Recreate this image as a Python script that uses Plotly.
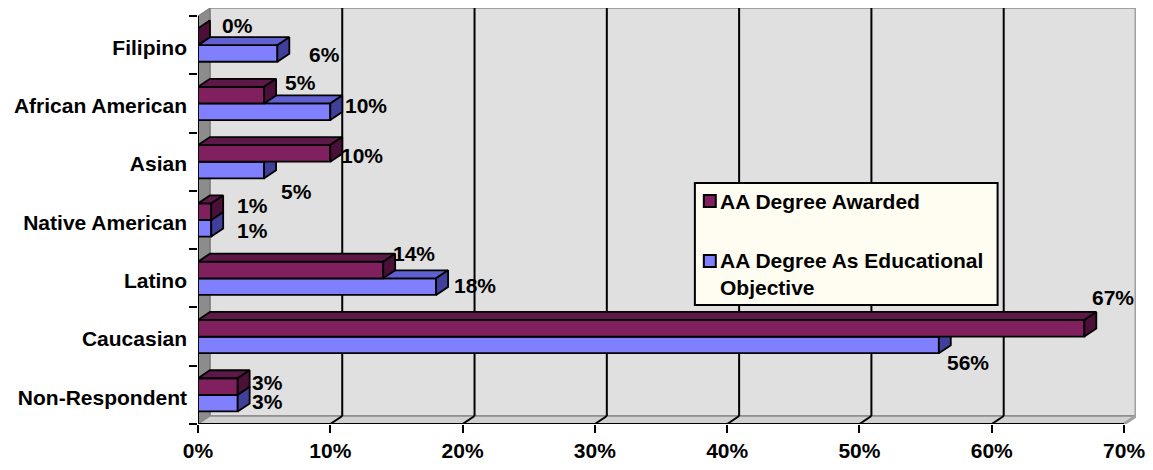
import plotly.graph_objects as go

# ---------------- data ----------------
categories = ['Non-Respondent', 'Caucasian', 'Latino', 'Native American',
              'Asian', 'African American', 'Filipino']          # bottom -> top
awarded = [3, 67, 14, 1, 10, 5, 0]          # AA Degree Awarded (%)
objective = [3, 56, 18, 1, 5, 10, 6]        # AA Degree As Educational Objective (%)
x_ticks = [0, 10, 20, 30, 40, 50, 60, 70]
x_tick_labels = ['0%', '10%', '20%', '30%', '40%', '50%', '60%', '70%']
series_names = ['AA Degree Awarded', 'AA Degree As Educational<br>Objective']

# ---------------- style ----------------
FONT = dict(family='Liberation Sans, Arial, sans-serif', size=21, color='black', weight='bold')
W, H = 1153, 470
ML, MR, MT, MB = 198, 13, 8, 46
XMAX = 0.70
DX = 12 / (930 / XMAX)          # depth offset (x, data units)
PLOT_H = H - MT - MB
DY = 0.1373                     # depth offset (y, category units)
BW = 0.285                      # bar thickness (category units)

M_FRONT, M_TOP, M_SIDE = '#80205F', '#5C1847', '#4A1038'
B_FRONT, B_TOP, B_SIDE = '#8080FF', '#6060D0', '#40409A'

# label offsets (pixels: right, down) relative to bar end / bar centre
aw_off = [(30, -4), (29, -31), (31, -16), (41, -6), (32, 2), (36, -13), (39, -11)]
ob_off = [(30, -2), (29, 18), (39, -1), (41, 2), (32, 21), (36, -6), (47, 1)]

fig = go.Figure()


def faces(values, y_lo_shift):
    fx, fy, tx, ty, sx, sy = [], [], [], [], [], []
    for i, v in enumerate(values):
        v = v / 100
        y0 = i + y_lo_shift
        y1 = y0 + BW
        fx += [0, v, v, 0, 0, None]
        fy += [y0, y0, y1, y1, y0, None]
        tx += [0, v, v + DX, DX, 0, None]
        ty += [y1, y1, y1 + DY, y1 + DY, y1, None]
        sx += [v, v + DX, v + DX, v, v, None]
        sy += [y0, y0 + DY, y1 + DY, y1, y0, None]
    return (fx, fy), (tx, ty), (sx, sy)


for vals, shift, cols in [(objective, -BW, (B_FRONT, B_TOP, B_SIDE)),
                          (awarded, 0.0, (M_FRONT, M_TOP, M_SIDE))]:
    for (xs, ys), col in zip(faces(vals, shift), cols):
        fig.add_trace(go.Scatter(x=xs, y=ys, mode='lines', fill='toself',
                                 fillcolor=col, line=dict(color='black', width=1.8),
                                 hoverinfo='skip', showlegend=False))

# data labels
for vals, shift, offs in [(awarded, 0.0, aw_off), (objective, -BW, ob_off)]:
    for i, v in enumerate(vals):
        fig.add_annotation(x=v / 100, y=i + shift + BW / 2, text=f'{v}%',
                           showarrow=False, xanchor='center', yanchor='middle',
                           xshift=offs[i][0], yshift=-offs[i][1], font=FONT,
                           borderpad=0)

shapes = []
ylo, yhi = -0.5, 6.5
# back wall
shapes.append(dict(type='rect', xref='x', yref='y', x0=DX, x1=XMAX + DX,
                   y0=ylo + DY, y1=yhi + DY, fillcolor='#E0E0E0',
                   line=dict(color='#A0A0A0', width=2), layer='below'))
# left wall
shapes.append(dict(type='path', xref='x', yref='y', layer='below',
                   path=f'M0,{ylo} L{DX},{ylo+DY} L{DX},{yhi+DY} L0,{yhi} Z',
                   fillcolor='#8C8C8C', line=dict(color='#707070', width=1)))
# floor
shapes.append(dict(type='path', xref='x', yref='y', layer='below',
                   path=f'M0,{ylo} L{XMAX},{ylo} L{XMAX+DX},{ylo+DY} L{DX},{ylo+DY} Z',
                   fillcolor='#D0D0D0', line=dict(color='#8C8C8C', width=1.5)))
# right edge of wall
shapes.append(dict(type='path', xref='x', yref='y', layer='below',
                   path=f'M{XMAX+DX},{yhi+DY} L{XMAX+DX},{ylo+DY} L{XMAX},{ylo}',
                   line=dict(color='#A0A0A0', width=3)))
# gridlines on wall and floor
for t in x_ticks[1:-1]:
    xv = t / 100
    shapes.append(dict(type='line', xref='x', yref='y', layer='below',
                       x0=xv + DX, x1=xv + DX, y0=ylo + DY, y1=yhi + DY,
                       line=dict(color='black', width=2)))
    shapes.append(dict(type='line', xref='x', yref='y', layer='below',
                       x0=xv, x1=xv + DX, y0=ylo, y1=ylo + DY,
                       line=dict(color='black', width=2)))
# front axis lines
shapes.append(dict(type='line', xref='x', yref='y', layer='below',
                   x0=0, x1=XMAX, y0=ylo, y1=ylo, line=dict(color='black', width=2)))
shapes.append(dict(type='line', xref='x', yref='y', layer='below',
                   x0=0, x1=0, y0=ylo, y1=yhi, line=dict(color='black', width=2)))


# legend (manual)
def px_x(p):
    return (p - ML) / (W - ML - MR)


def px_y(p):
    return (H - MB - p) / PLOT_H


shapes.append(dict(type='rect', xref='paper', yref='paper', layer='above',
                   x0=px_x(697), x1=px_x(1001), y0=px_y(305), y1=px_y(183),
                   fillcolor='#FFFCF2', line=dict(color='black', width=2)))
for col, yc in [(M_FRONT, 201), (B_FRONT, 261)]:
    shapes.append(dict(type='rect', xref='paper', yref='paper', layer='above',
                       x0=px_x(706), x1=px_x(718), y0=px_y(yc + 6), y1=px_y(yc - 6),
                       fillcolor=col, line=dict(color='black', width=2)))
fig.add_annotation(xref='paper', yref='paper', x=px_x(721), y=px_y(201),
                   text=series_names[0], showarrow=False, xanchor='left',
                   yanchor='middle', font=FONT, align='left', borderpad=0)
fig.add_annotation(xref='paper', yref='paper', x=px_x(721), y=px_y(274),
                   text=series_names[1], showarrow=False,
                   xanchor='left', yanchor='middle', font=FONT, align='left', borderpad=0)

fig.update_layout(
    width=W, height=H, margin=dict(l=ML, r=MR, t=MT, b=MB),
    paper_bgcolor='white', plot_bgcolor='white', shapes=shapes,
    showlegend=False, font=FONT,
    xaxis=dict(range=[0, XMAX + DX], tickvals=[t / 100 for t in x_ticks],
               ticktext=x_tick_labels, ticks='outside', ticklen=8, tickwidth=2,
               tickcolor='black', showgrid=False, zeroline=False, showline=False,
               tickfont=FONT, fixedrange=True),
    yaxis=dict(range=[ylo, yhi + DY], tickvals=[k - 0.04 for k in range(len(categories))],
               ticktext=categories, ticks='', showgrid=False, zeroline=False,
               showline=False, tickfont=FONT, ticklabelstandoff=10,
               minor=dict(tickvals=[k - 0.5 for k in range(len(categories) + 1)],
                          ticks='outside', ticklen=8, tickwidth=2, tickcolor='black',
                          showgrid=False),
               fixedrange=True),
)

fig.write_html('out.html')
